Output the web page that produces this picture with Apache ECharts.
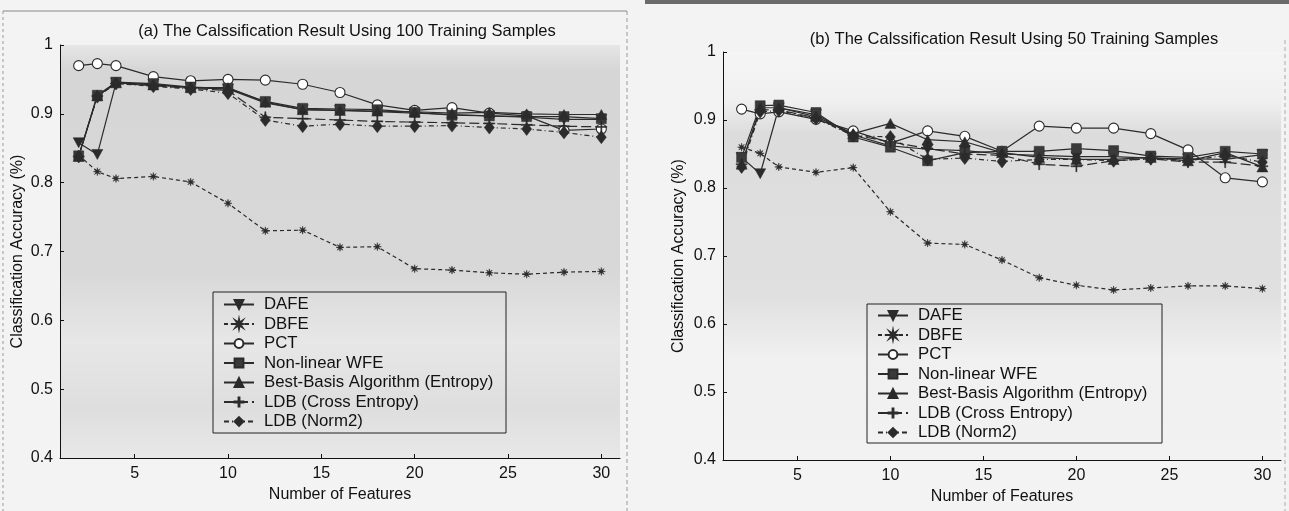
<!DOCTYPE html>
<html>
<head>
<meta charset="utf-8">
<script src="https://cdn.jsdelivr.net/npm/echarts@6/dist/echarts.min.js"></script>
<style>
  html, body { margin: 0; padding: 0; background: #f3f3f3; }
  #chart { width: 1289px; height: 511px; }
</style>
</head>
<body>
<div id="chart"></div>
<script>
// number of features (x values shared by every curve)
const features = [2, 3, 4, 6, 8, 10, 12, 14, 16, 18, 20, 22, 24, 26, 28, 30]
const xTicks = [5, 10, 15, 20, 25, 30]

const names = ['DAFE', 'DBFE', 'PCT', 'Non-linear WFE', 'Best-Basis Algorithm (Entropy)', 'LDB (Cross Entropy)', 'LDB (Norm2)']

// (a) 100 training samples
const dafeA   = [0.858, 0.841, 0.945, 0.943, 0.938, 0.936, 0.916, 0.906, 0.905, 0.903, 0.901, 0.899, 0.897, 0.895, 0.892, 0.892]
const dbfeA   = [0.840, 0.816, 0.806, 0.809, 0.801, 0.770, 0.730, 0.731, 0.706, 0.707, 0.675, 0.673, 0.669, 0.667, 0.670, 0.671]
const pctA    = [0.970, 0.973, 0.970, 0.954, 0.948, 0.950, 0.949, 0.943, 0.931, 0.913, 0.905, 0.909, 0.901, 0.897, 0.876, 0.878]
const nlwfeA  = [0.839, 0.927, 0.946, 0.944, 0.939, 0.937, 0.918, 0.908, 0.907, 0.906, 0.902, 0.898, 0.897, 0.896, 0.896, 0.893]
const bbA     = [0.838, 0.926, 0.945, 0.942, 0.938, 0.938, 0.917, 0.906, 0.905, 0.904, 0.903, 0.901, 0.902, 0.900, 0.899, 0.899]
const ldbCeA  = [0.838, 0.926, 0.944, 0.941, 0.937, 0.934, 0.895, 0.893, 0.891, 0.889, 0.888, 0.887, 0.886, 0.884, 0.882, 0.881]
const ldbN2A  = [0.838, 0.925, 0.944, 0.940, 0.936, 0.930, 0.891, 0.882, 0.885, 0.882, 0.882, 0.883, 0.880, 0.878, 0.873, 0.866]

// (b) 50 training samples
const dafeB   = [0.845, 0.821, 0.918, 0.908, 0.878, 0.862, 0.857, 0.855, 0.850, 0.848, 0.846, 0.846, 0.844, 0.843, 0.842, 0.849]
const dbfeB   = [0.860, 0.851, 0.831, 0.823, 0.830, 0.765, 0.719, 0.717, 0.694, 0.668, 0.657, 0.650, 0.653, 0.656, 0.656, 0.652]
const pctB    = [0.916, 0.909, 0.912, 0.901, 0.884, 0.866, 0.884, 0.876, 0.854, 0.891, 0.888, 0.888, 0.880, 0.856, 0.815, 0.809]
const nlwfeB  = [0.845, 0.921, 0.922, 0.911, 0.875, 0.860, 0.840, 0.852, 0.854, 0.854, 0.858, 0.855, 0.847, 0.845, 0.854, 0.850]
const bbB     = [0.835, 0.918, 0.918, 0.905, 0.880, 0.895, 0.871, 0.868, 0.852, 0.845, 0.842, 0.842, 0.845, 0.840, 0.852, 0.831]
const ldbCeB  = [0.835, 0.915, 0.915, 0.903, 0.878, 0.868, 0.858, 0.850, 0.848, 0.835, 0.832, 0.840, 0.843, 0.838, 0.838, 0.832]
const ldbN2B  = [0.831, 0.912, 0.914, 0.902, 0.877, 0.875, 0.842, 0.844, 0.839, 0.842, 0.842, 0.840, 0.843, 0.840, 0.848, 0.838]

const seriesA = [dafeA, dbfeA, pctA, nlwfeA, bbA, ldbCeA, ldbN2A]
const seriesB = [dafeB, dbfeB, pctB, nlwfeB, bbB, ldbCeB, ldbN2B]

const INK = '#2b2b2b'
const FONT = '"Liberation Sans", Arial, sans-serif'

// asterisk-like marker for DBFE
const starPath = (() => {
  const pts = []
  for (let i = 0; i < 16; i++) {
    const a = Math.PI * i / 8
    const r = i % 2 === 0 ? 10 : 3.5
    pts.push((Math.sin(a) * r).toFixed(2) + ',' + (-Math.cos(a) * r).toFixed(2))
  }
  return 'path://M' + pts.join('L') + 'Z'
})()
const plusPath = 'path://M-0.6,-6H0.6V-0.6H6V0.6H0.6V6H-0.6V0.6H-6V-0.6H-0.6Z'

// marker / line style of each method
const styles = [
  { symbol: 'triangle', symbolRotate: 180, symbolSize: [11, 10], line: 'solid', fill: INK },
  { symbol: starPath, symbolSize: 8, line: [4, 3], fill: INK },
  { symbol: 'circle', symbolSize: 10, line: 'solid', fill: '#ffffff' },
  { symbol: 'rect', symbolSize: 10, line: 'solid', fill: '#3a3a3a' },
  { symbol: 'triangle', symbolSize: [11, 10], line: 'solid', fill: INK },
  { symbol: plusPath, symbolSize: 11, line: [10, 4], fill: INK },
  { symbol: 'diamond', symbolSize: [10, 13], line: [5, 3, 1, 3], fill: INK },
]

const buildSeries = (data, idx) => data.map((vals, i) => ({
  name: names[i],
  type: 'line',
  xAxisIndex: idx,
  yAxisIndex: idx,
  data: features.map((f, k) => [f, vals[k]]),
  symbol: styles[i].symbol,
  symbolRotate: styles[i].symbolRotate || 0,
  symbolSize: styles[i].symbolSize,
  showAllSymbol: true,
  lineStyle: { color: INK, width: 1.2, type: styles[i].line },
  itemStyle: { color: styles[i].fill, borderColor: INK, borderWidth: i === 2 ? 1.1 : 0.5 },
  emphasis: { disabled: true },
  animation: false,
}))

const plotBg = (stops) => ({
  type: 'linear', x: 0, y: 0, x2: 0, y2: 1,
  colorStops: stops,
})

const xAxisCfg = (gridIndex) => ({
  gridIndex,
  type: 'value',
  min: 1,
  max: 31,
  name: 'Number of Features',
  nameLocation: 'middle',
  nameGap: 27,
  nameTextStyle: { color: '#111', fontSize: 16, fontFamily: FONT },
  axisLine: { lineStyle: { color: '#111', width: 1 } },
  axisTick: { inside: true, length: 4, customValues: xTicks, lineStyle: { color: '#111' } },
  axisLabel: { customValues: xTicks, color: '#111', fontSize: 16, fontFamily: FONT, margin: 8 },
  splitLine: { show: false },
})

const yAxisCfg = (gridIndex, gap) => ({
  gridIndex,
  type: 'value',
  min: 0.4,
  max: 1,
  interval: 0.1,
  name: 'Classification Accuracy (%)',
  nameLocation: 'middle',
  nameGap: gap,
  nameTextStyle: { color: '#111', fontSize: 16, fontFamily: FONT },
  axisLine: { show: true, lineStyle: { color: '#111', width: 1 } },
  axisTick: { inside: true, length: 4, lineStyle: { color: '#111' } },
  axisLabel: { color: '#111', fontSize: 16, fontFamily: FONT, margin: 7 },
  splitLine: { show: false },
})

const legendCfg = (left, top) => ({
  orient: 'vertical',
  left,
  top,
  data: names,
  itemWidth: 30,
  itemHeight: 11,
  itemGap: 2.5,
  selectedMode: false,
  textStyle: { color: '#111', fontSize: 16.8, fontFamily: FONT, lineHeight: 17, padding: [0, 0, 0, 5] },
})

const chart = echarts.init(document.getElementById('chart'))

chart.setOption({
  backgroundColor: '#f3f3f3',
  animation: false,
  title: [
    {
      text: '(a) The Calssification Result Using 100 Training Samples',
      left: 342, top: 18, textAlign: 'center',
      textStyle: { color: '#111', fontSize: 16.5, fontWeight: 'normal', fontFamily: FONT },
    },
    {
      text: '(b) The Calssification Result Using 50 Training Samples',
      left: 1009, top: 26, textAlign: 'center',
      textStyle: { color: '#111', fontSize: 16.5, fontWeight: 'normal', fontFamily: FONT },
    },
  ],
  grid: [
    {
      left: 60, top: 45, width: 560, height: 413,
      show: true, borderWidth: 0,
      backgroundColor: plotBg([
        { offset: 0, color: '#e6e6e6' },
        { offset: 0.06, color: '#d6d6d6' },
        { offset: 0.55, color: '#d8d8d8' },
        { offset: 0.72, color: '#e7e7e7' },
        { offset: 0.88, color: '#dedede' },
        { offset: 1, color: '#e8e8e8' },
      ]),
    },
    {
      left: 723, top: 52, width: 558, height: 408,
      show: true, borderWidth: 0,
      backgroundColor: plotBg([
        { offset: 0, color: '#f5f5f5' },
        { offset: 0.12, color: '#f0f0f0' },
        { offset: 0.2, color: '#dcdcdc' },
        { offset: 0.6, color: '#e0e0e0' },
        { offset: 0.75, color: '#f0f0f0' },
        { offset: 1, color: '#f2f2f2' },
      ]),
    },
  ],
  legend: [legendCfg(218, 291), legendCfg(872, 302)],
  xAxis: [xAxisCfg(0), xAxisCfg(1)],
  yAxis: [yAxisCfg(0, 34), yAxisCfg(1, 36)],
  series: [...buildSeries(seriesA, 0), ...buildSeries(seriesB, 1)],
  graphic: [
    // legend frames
    { type: 'rect', shape: { x: 213, y: 292, width: 293, height: 141 }, style: { fill: 'none', stroke: '#222', lineWidth: 1 }, z: 10 },
    { type: 'rect', shape: { x: 867, y: 304, width: 295, height: 139 }, style: { fill: 'none', stroke: '#222', lineWidth: 1 }, z: 10 },
    // scanned page frame edges
    { type: 'line', shape: { x1: 3, y1: 11, x2: 627, y2: 11 }, style: { stroke: '#888', lineWidth: 1 } },
    { type: 'line', shape: { x1: 3, y1: 11, x2: 3, y2: 511 }, style: { stroke: '#999', lineWidth: 1, lineDash: [3, 3] } },
    { type: 'line', shape: { x1: 627, y1: 11, x2: 627, y2: 511 }, style: { stroke: '#999', lineWidth: 1, lineDash: [4, 3] } },
    { type: 'rect', shape: { x: 645, y: 0, width: 644, height: 4 }, style: { fill: '#6a6a6a' } },
    { type: 'line', shape: { x1: 1285, y1: 40, x2: 1285, y2: 511 }, style: { stroke: '#aaa', lineWidth: 1, lineDash: [4, 3] } },
  ],
})
</script>
</body>
</html>
